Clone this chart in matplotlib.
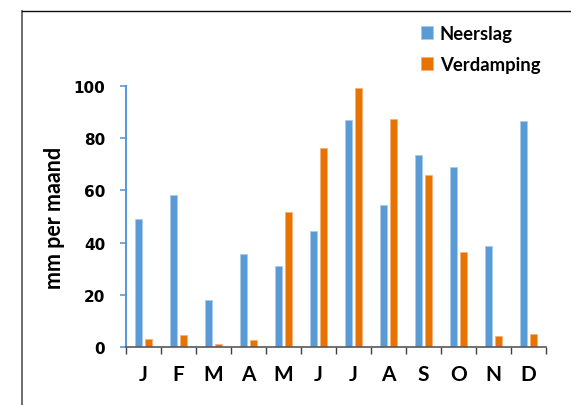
import matplotlib
matplotlib.use("Agg")
import matplotlib.pyplot as plt
import numpy as np
from matplotlib.lines import Line2D

months = ["J", "F", "M", "A", "M", "J", "J", "A", "S", "O", "N", "D"]
neerslag = [49.0, 58.2, 18.2, 35.6, 31.1, 44.4, 86.9, 54.4, 73.6, 68.9, 38.6, 86.5]
verdamping = [3.3, 4.6, 1.3, 2.9, 51.6, 76.0, 99.1, 87.2, 65.7, 36.4, 4.3, 5.0]
yticks = [0, 20, 40, 60, 80, 100]

BLUE = "#5B9BD5"
ORANGE = "#E97300"

plt.rcParams['font.family'] = ['Lato', 'DejaVu Sans']

fig = plt.figure(figsize=(5.71, 4.06), dpi=100)
ax = fig.add_axes([126/571, 1-348.3/406, 420/571, (348.3-86.7)/406])

x = np.arange(len(months)) + 0.5
w = 0.21
ax.bar(x - 0.145, neerslag, width=w, color=BLUE, edgecolor="#A9CBEA", linewidth=0.6, label="Neerslag")
ax.bar(x + 0.145, verdamping, width=w, color=ORANGE, edgecolor="#F4B27A", linewidth=0.6, label="Verdamping")

ax.set_xlim(0, 12)
ax.set_ylim(0, 100)
ax.set_yticks(yticks)
ax.set_yticklabels([str(v) for v in yticks], fontsize=11, fontweight='bold', family='DejaVu Sans')
ax.tick_params(axis='y', direction='out', length=4.5, width=1.2, color=BLUE, pad=10.5)

ax.set_xticks(np.arange(0, 13))
ax.set_xticklabels([])
ax.tick_params(axis='x', which='major', direction='out', length=5, width=1, color="#404040")
ax.set_xticks(x, minor=True)
ax.set_xticklabels(months, minor=True, fontsize=15, fontweight='bold')
ax.tick_params(axis='x', which='minor', length=0, pad=12)

for s in ['top', 'right']:
    ax.spines[s].set_visible(False)
ax.spines['left'].set_color(BLUE)
ax.spines['left'].set_linewidth(1.5)
ax.spines['bottom'].set_color("#595959")
ax.spines['bottom'].set_linewidth(1.2)

ax.set_ylabel("mm per maand", fontsize=15.5, fontweight='bold', labelpad=6)

leg = fig.legend(loc='upper left', bbox_to_anchor=(420.5/571, 1-26/406), frameon=False,
                 prop={'weight': 'bold', 'size': 13.3}, handlelength=0.65, handleheight=0.65,
                 handletextpad=0.4, labelspacing=0.75, borderaxespad=0, borderpad=0)

# outer frame lines
fig.add_artist(Line2D([22.3/571, 22.3/571], [0, 1-12.3/406], transform=fig.transFigure, color="#606060", linewidth=1.3))
fig.add_artist(Line2D([22.3/571, 1], [1-12.3/406, 1-12.3/406], transform=fig.transFigure, color="#111111", linewidth=1))

fig.savefig("out.png", dpi=100)
